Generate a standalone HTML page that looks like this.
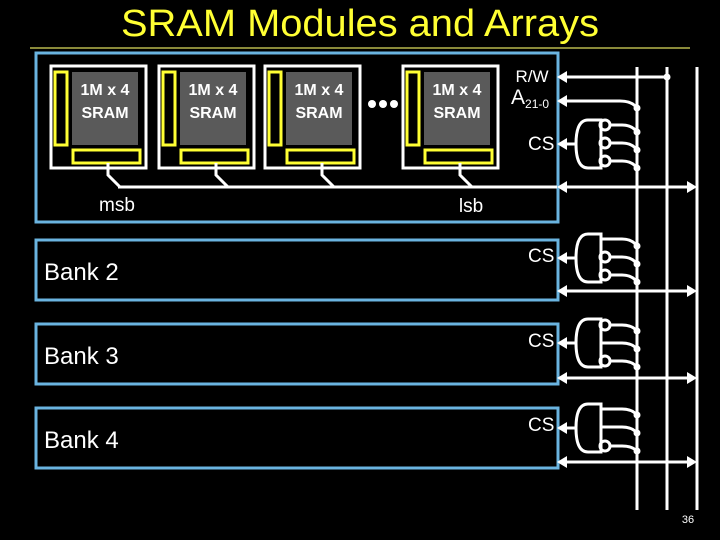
<!DOCTYPE html>
<html><head><style>html,body{margin:0;padding:0;background:#000}svg{display:block}</style></head><body>
<svg width="720" height="540" viewBox="0 0 720 540" xmlns="http://www.w3.org/2000/svg" font-family="Liberation Sans, sans-serif">
<rect width="720" height="540" fill="#000"/>
<text x="360" y="36" text-anchor="middle" fill="#ffff33" font-size="38" textLength="478" lengthAdjust="spacingAndGlyphs">SRAM Modules and Arrays</text>
<line x1="30" y1="48" x2="690" y2="48" stroke="#8a8a3a" stroke-width="2"/>
<g fill="none" stroke="#6ab4e0" stroke-width="3">
<rect x="36" y="53" width="522" height="169"/>
<rect x="36" y="240" width="522" height="60"/>
<rect x="36" y="324" width="522" height="60"/>
<rect x="36" y="408" width="522" height="60"/>
</g>
<g id="mods">
<g transform="translate(0,0)">
<rect x="51" y="66" width="95" height="102" fill="none" stroke="#fff" stroke-width="3"/>
<rect x="55" y="72" width="12" height="73" fill="none" stroke="#ffff33" stroke-width="3"/>
<rect x="72" y="72" width="66" height="73" fill="#5a5a5a"/>
<rect x="73" y="150" width="67" height="13" fill="none" stroke="#ffff33" stroke-width="3"/>
<text x="105" y="95" text-anchor="middle" fill="#fff" font-size="16" font-weight="bold">1M x 4</text>
<text x="105" y="118" text-anchor="middle" fill="#fff" font-size="16" font-weight="bold">SRAM</text>
<polyline points="108,163 108,175 120,187" fill="none" stroke="#fff" stroke-width="3"/>
</g>
</g>
<use href="#mods" transform="translate(108,0)"/>
<use href="#mods" transform="translate(214,0)"/>
<use href="#mods" transform="translate(352,0)"/>
<circle cx="372" cy="104" r="4" fill="#fff"/><circle cx="383" cy="104" r="4" fill="#fff"/><circle cx="394" cy="104" r="4" fill="#fff"/>
<line x1="118" y1="187" x2="557" y2="187" stroke="#fff" stroke-width="3"/>
<text x="117" y="211" text-anchor="middle" fill="#fff" font-size="19">msb</text>
<text x="471" y="212" text-anchor="middle" fill="#fff" font-size="19">lsb</text>
<text x="532" y="82" text-anchor="middle" fill="#fff" font-size="17">R/W</text>
<text x="511" y="104" fill="#fff" font-size="21">A<tspan font-size="12" dy="4">21-0</tspan></text>
<g fill="#fff" font-size="19">
<text x="528" y="150">CS</text><text x="528" y="262">CS</text><text x="528" y="347">CS</text><text x="528" y="431">CS</text>
</g>
<g fill="#fff" font-size="24">
<text x="44" y="280">Bank 2</text><text x="44" y="364">Bank 3</text><text x="44" y="448">Bank 4</text>
</g>
<g stroke="#fff" stroke-width="3" fill="none">
<line x1="637" y1="67" x2="637" y2="510"/>
<line x1="667" y1="67" x2="667" y2="510"/>
<line x1="697" y1="67" x2="697" y2="510"/>
<line x1="562" y1="77" x2="667" y2="77"/>
<path d="M562,101 H620 Q632,101 637,108"/>
<line x1="562" y1="187" x2="692" y2="187"/>
<line x1="562" y1="291" x2="692" y2="291"/>
<line x1="562" y1="378" x2="692" y2="378"/>
<line x1="562" y1="462" x2="692" y2="462"/>
</g>
<g fill="#fff">
<circle cx="667" cy="77" r="3.5"/><circle cx="637" cy="108" r="3.5"/>
<path d="M557,77 l10,-6 v12z"/><path d="M557,101 l10,-6 v12z"/>
<path d="M557,187 l10,-6 v12z"/><path d="M697,187 l-10,-6 v12z"/>
<path d="M557,291 l10,-6 v12z"/><path d="M697,291 l-10,-6 v12z"/>
<path d="M557,378 l10,-6 v12z"/><path d="M697,378 l-10,-6 v12z"/>
<path d="M557,462 l10,-6 v12z"/><path d="M697,462 l-10,-6 v12z"/>
</g>
<g stroke="#fff" stroke-width="3" fill="none">
<path d="M601,120 H588 Q576,120 576,144 Q576,168 588,168 H601 Z"/>
<line x1="576" y1="144" x2="562" y2="144"/>
<circle cx="605" cy="125" r="5"/><circle cx="605" cy="143" r="5"/><circle cx="605" cy="161" r="5"/>
<path d="M610,125 H622 Q632,125 637,132"/><path d="M610,143 H622 Q632,143 637,150"/><path d="M610,161 H622 Q632,161 637,168"/>
</g>
<g fill="#fff"><path d="M557,144 l10,-6 v12z"/><circle cx="637" cy="132" r="3.5"/><circle cx="637" cy="150" r="3.5"/><circle cx="637" cy="168" r="3.5"/></g>

<g stroke="#fff" stroke-width="3" fill="none">
<path d="M601,234 H588 Q576,234 576,258 Q576,282 588,282 H601 Z"/>
<line x1="576" y1="258" x2="562" y2="258"/>
<circle cx="605" cy="257" r="5"/><circle cx="605" cy="275" r="5"/>
<path d="M601,239 H622 Q632,239 637,246"/><path d="M610,257 H622 Q632,257 637,264"/><path d="M610,275 H622 Q632,275 637,282"/>
</g>
<g fill="#fff"><path d="M557,258 l10,-6 v12z"/><circle cx="637" cy="246" r="3.5"/><circle cx="637" cy="264" r="3.5"/><circle cx="637" cy="282" r="3.5"/></g>

<g stroke="#fff" stroke-width="3" fill="none">
<path d="M601,319 H588 Q576,319 576,343 Q576,367 588,367 H601 Z"/>
<line x1="576" y1="343" x2="562" y2="343"/>
<circle cx="605" cy="325" r="5"/><circle cx="605" cy="361" r="5"/>
<path d="M610,325 H622 Q632,325 637,331"/><path d="M601,343 H622 Q632,343 637,349"/><path d="M610,361 H622 Q632,361 637,367"/>
</g>
<g fill="#fff"><path d="M557,343 l10,-6 v12z"/><circle cx="637" cy="331" r="3.5"/><circle cx="637" cy="349" r="3.5"/><circle cx="637" cy="367" r="3.5"/></g>

<g stroke="#fff" stroke-width="3" fill="none">
<path d="M601,404 H588 Q576,404 576,428 Q576,452 588,452 H601 Z"/>
<line x1="576" y1="428" x2="562" y2="428"/>
<circle cx="605" cy="446" r="5"/>
<path d="M601,409 H622 Q632,409 637,415"/><path d="M601,427 H622 Q632,427 637,433"/><path d="M610,446 H622 Q632,446 637,451"/>
</g>
<g fill="#fff"><path d="M557,428 l10,-6 v12z"/><circle cx="637" cy="415" r="3.5"/><circle cx="637" cy="433" r="3.5"/><circle cx="637" cy="451" r="3.5"/></g>

<text x="688" y="523" text-anchor="middle" fill="#fff" font-size="11">36</text>
</svg>
</body></html>
